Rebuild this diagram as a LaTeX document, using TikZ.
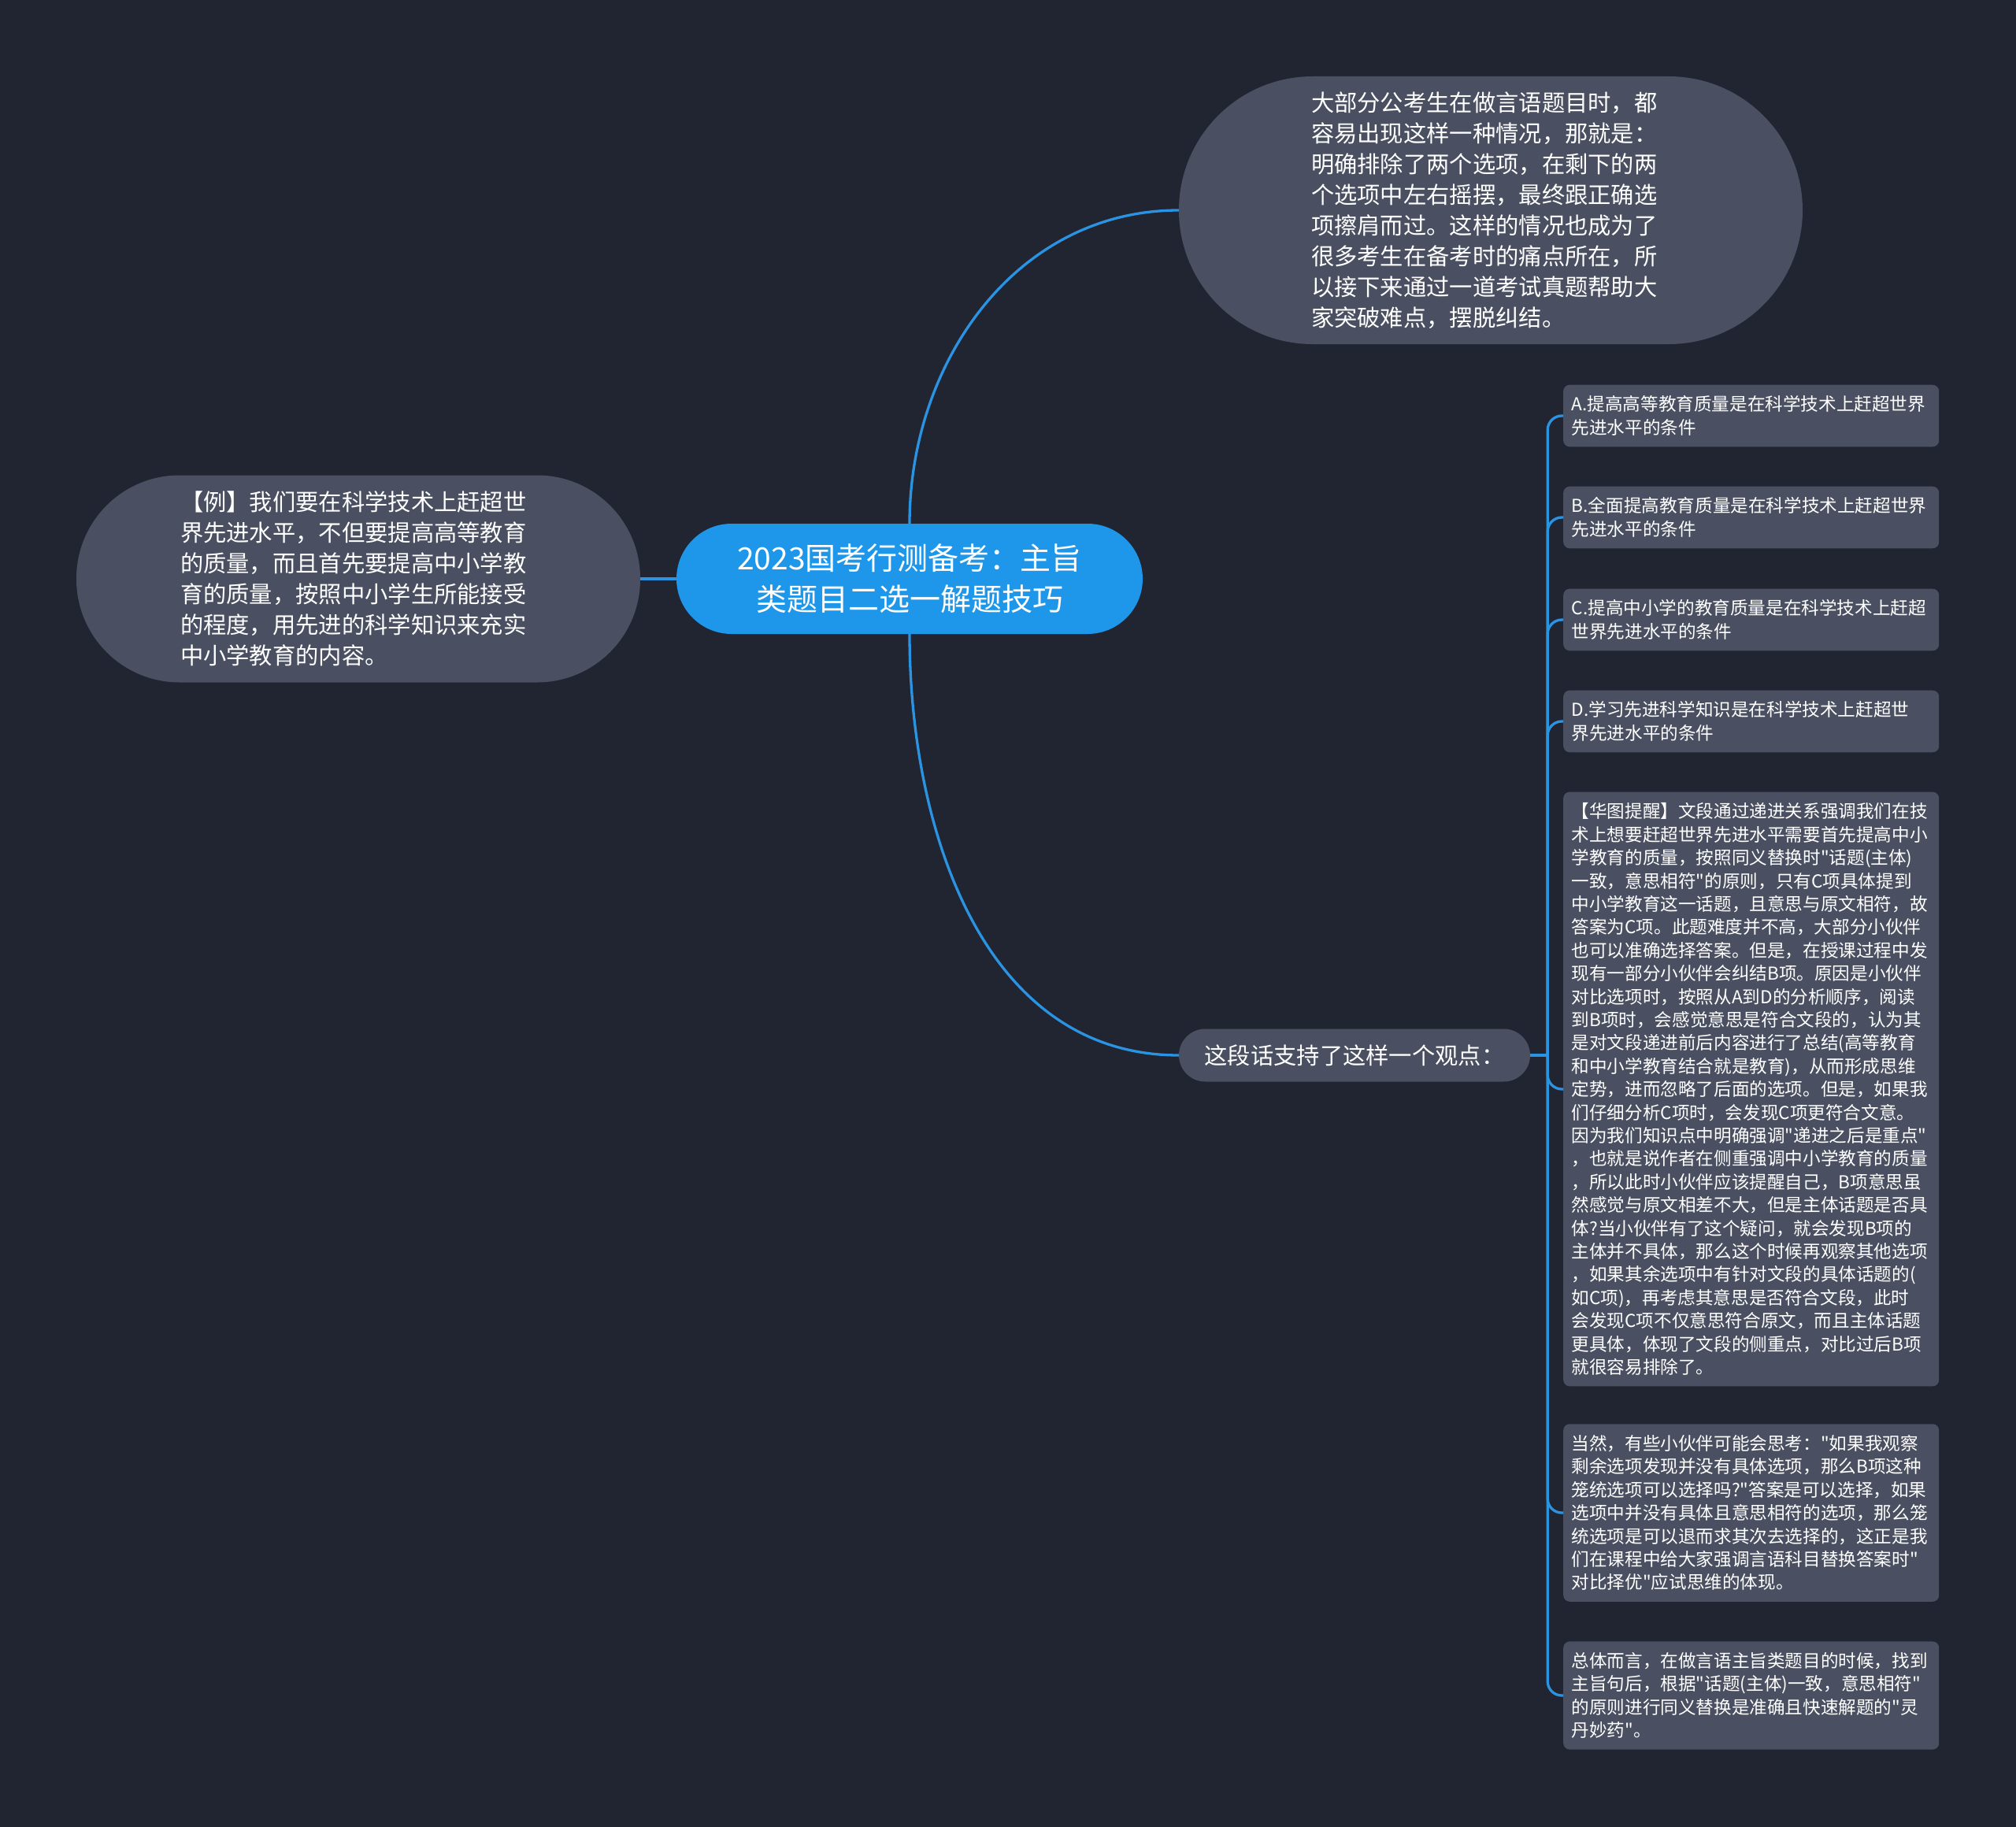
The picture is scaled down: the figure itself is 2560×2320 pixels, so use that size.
\documentclass[tikz,border=0pt]{standalone}
\usepackage{fontspec}
\newfontfamily\cjk{Noto Sans CJK SC}
\usepackage{xcolor}
\usepackage{tikz}
\usetikzlibrary{positioning}
\definecolor{bgc}{HTML}{212531}
\definecolor{nodec}{HTML}{4A5061}
\definecolor{rootc}{HTML}{1E97EA}
\definecolor{linec}{HTML}{2A93E2}
\tikzset{
  link/.style={draw=linec,line width=3.3pt},
  root/.style={fill=rootc,text=white,font=\cjk\fontsize{39}{52}\selectfont,align=center,inner sep=0pt,
    minimum width=592pt,minimum height=140pt,rounded corners=70pt},
  pill/.style={fill=nodec,text=white,font=\cjk\fontsize{29.3}{39}\selectfont,align=left,inner sep=0pt},
  leaf/.style={fill=nodec,text=white,font=\cjk\fontsize{22.6}{29.4}\selectfont,align=left,anchor=west,
    rounded corners=8pt,text width=456pt,inner xsep=10.5pt,inner ysep=14pt}
}
\begin{document}
\begin{tikzpicture}[x=1pt,y=-1pt]
\fill[bgc] (0,0) rectangle (2560,2320);
\useasboundingbox (0,0) rectangle (2560,2320);
% centre and first level
\node[root] (top) at (1155,735) {2023国考行测备考：主旨\\类题目二选一解题技巧};
\node[pill,text width=456pt,minimum width=792pt,minimum height=340pt,rounded corners=170pt] (intro) at (1893,267)
  {大部分公考生在做言语题目时，都\\容易出现这样一种情况，那就是：\\明确排除了两个选项，在剩下的两\\个选项中左右摇摆，最终跟正确选\\项擦肩而过。这样的情况也成为了\\很多考生在备考时的痛点所在，所\\以接下来通过一道考试真题帮助大\\家突破难点，摆脱纠结。};
\node[pill,text width=452pt,minimum width=716pt,minimum height=263pt,rounded corners=131pt] (exmp) at (455,735)
  {【例】我们要在科学技术上赶超世\\界先进水平，不但要提高高等教育\\的质量，而且首先要提高中小学教\\育的质量，按照中小学生所能接受\\的程度，用先进的科学知识来充实\\中小学教育的内容。};
\node[pill,minimum width=446pt,minimum height=67pt,rounded corners=33.5pt] (view) at (1720,1340)
  {这段话支持了这样一个观点：};
% leaves
\node[leaf] (la) at (1985,528) {A.提高高等教育质量是在科学技术上赶超世界\\先进水平的条件};
\node[leaf] (lb) at (1985,657) {B.全面提高教育质量是在科学技术上赶超世界\\先进水平的条件};
\node[leaf] (lc) at (1985,787) {C.提高中小学的教育质量是在科学技术上赶超\\世界先进水平的条件};
\node[leaf] (ld) at (1985,916) {D.学习先进科学知识是在科学技术上赶超世\\界先进水平的条件};
\node[leaf] (lh) at (1985,1383) {【华图提醒】文段通过递进关系强调我们在技\\术上想要赶超世界先进水平需要首先提高中小\\学教育的质量，按照同义替换时"话题(主体)\\一致，意思相符"的原则，只有C项具体提到\\中小学教育这一话题，且意思与原文相符，故\\答案为C项。此题难度并不高，大部分小伙伴\\也可以准确选择答案。但是，在授课过程中发\\现有一部分小伙伴会纠结B项。原因是小伙伴\\对比选项时，按照从A到D的分析顺序，阅读\\到B项时，会感觉意思是符合文段的，认为其\\是对文段递进前后内容进行了总结(高等教育\\和中小学教育结合就是教育)，从而形成思维\\定势，进而忽略了后面的选项。但是，如果我\\们仔细分析C项时，会发现C项更符合文意。\\因为我们知识点中明确强调"递进之后是重点"\\，也就是说作者在侧重强调中小学教育的质量\\，所以此时小伙伴应该提醒自己，B项意思虽\\然感觉与原文相差不大，但是主体话题是否具\\体?当小伙伴有了这个疑问，就会发现B项的\\主体并不具体，那么这个时候再观察其他选项\\，如果其余选项中有针对文段的具体话题的(\\如C项)，再考虑其意思是否符合文段，此时\\会发现C项不仅意思符合原文，而且主体话题\\更具体，体现了文段的侧重点，对比过后B项\\就很容易排除了。};
\node[leaf] (lw) at (1985,1921) {当然，有些小伙伴可能会思考："如果我观察\\剩余选项发现并没有具体选项，那么B项这种\\笼统选项可以选择吗?"答案是可以选择，如果\\选项中并没有具体且意思相符的选项，那么笼\\统选项是可以退而求其次去选择的，这正是我\\们在课程中给大家强调言语科目替换答案时"\\对比择优"应试思维的体现。};
\node[leaf] (lo) at (1985,2153) {总体而言，在做言语主旨类题目的时候，找到\\主旨句后，根据"话题(主体)一致，意思相符"\\的原则进行同义替换是准确且快速解题的"灵\\丹妙药"。};
% connectors
\draw[link] (top.north) to[out=90,in=180] (intro.west);
\draw[link] (top.south) to[out=-90,in=180] (view.west);
\draw[link] (top.west) -- (exmp.east);
\draw[link] (view.east) -- ++(22,0) coordinate (fork);
\foreach \n in {la,lb,lc,ld,lh,lw,lo}{\draw[link,rounded corners=18pt] (fork) |- (\n.west);}
\end{tikzpicture}
\end{document}
